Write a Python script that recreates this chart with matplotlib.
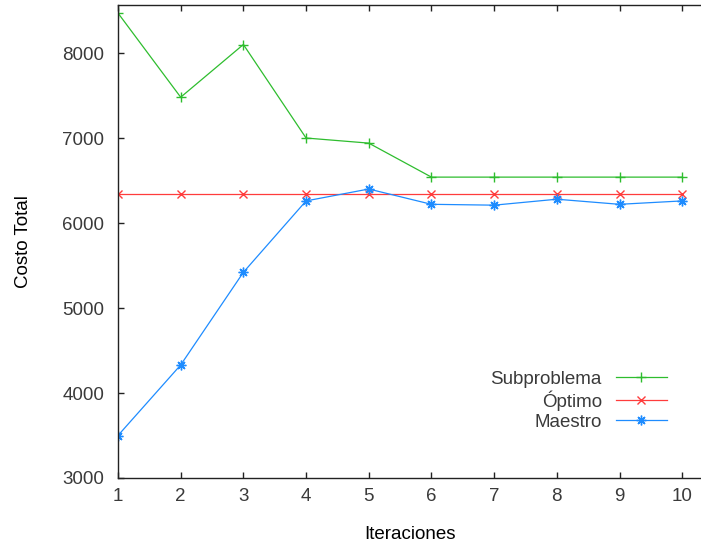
import matplotlib
matplotlib.use("Agg")
import matplotlib.pyplot as plt

# datos
iteraciones = [1, 2, 3, 4, 5, 6, 7, 8, 9, 10]
subproblema = [8470, 7480, 8100, 7000, 6940, 6540, 6540, 6540, 6540, 6540]
optimo = [6340, 6340, 6340, 6340, 6340, 6340, 6340, 6340, 6340, 6340]
maestro = [3500, 4330, 5420, 6260, 6400, 6220, 6210, 6280, 6220, 6260]
yticks = [3000, 4000, 5000, 6000, 7000, 8000]

plt.rcParams['font.family'] = ['Liberation Sans', 'DejaVu Sans']
plt.rcParams['font.size'] = 13.5
plt.rcParams['text.color'] = '#3a3a3a'

fig = plt.figure(figsize=(7.01, 5.45), dpi=100)
ax = fig.add_axes([118 / 701, 67 / 545, 1 - 118 / 701, (478 - 5) / 545])

ax.plot(iteraciones, subproblema, color='#2ebd2e', lw=0.9, marker='+', ms=7, mew=1.0, label='Subproblema')
ax.plot(iteraciones, optimo, color='#ff3c3c', lw=0.9, marker='x', ms=6, mew=1.0, label='Óptimo')
ax.plot(iteraciones, maestro, color='#1e8cff', lw=0.9, marker=(8, 2, 0), ms=7, mew=1.0, label='Maestro')

ax.set_xlim(1, 10.3)
ax.set_ylim(3000, 8565)
ax.set_xticks(iteraciones)
ax.set_yticks(yticks)
ax.tick_params(direction='in', length=4, width=1, top=True, right=False,
               colors='#222222', labelcolor='#3a3a3a', pad=7)
ax.tick_params(axis='y', pad=10)
ax.spines['right'].set_visible(False)
for s in ['left', 'bottom', 'top']:
    ax.spines[s].set_linewidth(1)
    ax.spines[s].set_color('#222222')

ax.set_xlabel('Iteraciones', labelpad=15)
ax.set_ylabel('Costo Total', labelpad=22)

leg = ax.legend(loc='lower right', bbox_to_anchor=(0.957, 0.080), frameon=False,
                markerfirst=False, handlelength=2.7, handletextpad=0.75,
                labelspacing=0.15, borderpad=0)
for t in leg.get_texts():
    t.set_ha('right')

fig.savefig('out.png', dpi=100)
